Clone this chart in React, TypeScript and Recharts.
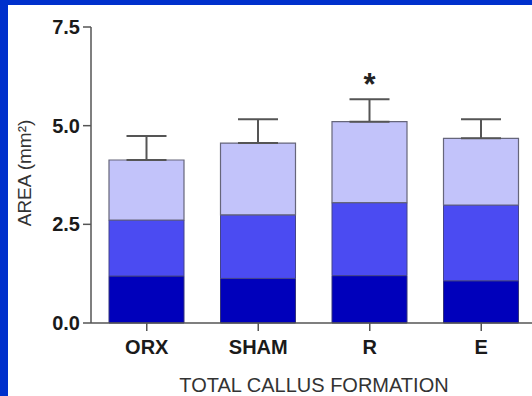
import { Bar, BarChart, ErrorBar, LabelList, XAxis, YAxis } from "recharts";

const groups = ["ORX", "SHAM", "R", "E"];
const lowerPart = [1.19, 1.13, 1.2, 1.07];
const middlePart = [1.42, 1.61, 1.85, 1.92];
const upperPart = [1.52, 1.82, 2.05, 1.69];
const upperError = [0.61, 0.6, 0.57, 0.48];
const significance = ["", "", "*", ""];
const yTicks = [0, 2.5, 5, 7.5];

const data = groups.map((g, i) => ({
  group: g,
  low: lowerPart[i],
  mid: middlePart[i],
  high: upperPart[i],
  err: [0, upperError[i]],
  sig: significance[i],
}));

const FONT = "'Liberation Sans', Arial, sans-serif";

const Star = (props: any) => {
  const { x, y, width, value } = props;
  if (!value) return null;
  return (
    <text
      x={x + width / 2}
      y={y - 27}
      textAnchor="middle"
      fontFamily={FONT}
      fontWeight="bold"
      fontSize={31}
      fill="#222"
    >
      {value}
    </text>
  );
};

const YLabel = () => (
  <text
    x={24}
    y={173}
    transform="rotate(-90 24 173)"
    textAnchor="middle"
    dominantBaseline="central"
    fontFamily={FONT}
    fontSize={19}
    fill="#333"
  >
    AREA (mm²)
  </text>
);

export default function App() {
  return (
    <div
      style={{
        position: "absolute",
        left: 0,
        top: 0,
        width: 532,
        height: 396,
        background: "#0030CC",
        overflow: "hidden",
      }}
    >
      <div
        style={{
          position: "absolute",
          left: 8,
          top: 5,
          width: 524,
          height: 391,
          background: "#fff",
        }}
      />
      <div style={{ position: "absolute", left: 0, top: 0 }}>
        <BarChart
          width={545}
          height={396}
          data={data}
          margin={{ top: 27, right: 8, left: 0, bottom: 0 }}
          barSize={75}
        >
          <XAxis
            dataKey="group"
            height={73}
            tickSize={8}
            tickMargin={9}
            axisLine={{ stroke: "#555", strokeWidth: 1.5 }}
            tickLine={{ stroke: "#555", strokeWidth: 1.5 }}
            tick={{ fill: "#1a1a1a", fontSize: 20, fontWeight: "bold", fontFamily: FONT }}
            label={{
              value: "TOTAL CALLUS FORMATION",
              position: "insideBottom",
              offset: 4,
              fill: "#333",
              fontSize: 20,
              fontFamily: FONT,
            }}
          />
          <YAxis
            width={91}
            domain={[0, 7.5]}
            ticks={yTicks}
            tickFormatter={(v: number) => v.toFixed(1)}
            tickSize={8}
            tickMargin={3}
            axisLine={{ stroke: "#555", strokeWidth: 1.5 }}
            tickLine={{ stroke: "#555", strokeWidth: 1.5 }}
            tick={{ fill: "#1a1a1a", fontSize: 20, fontWeight: "bold", fontFamily: FONT }}
            label={<YLabel />}
          />
          <Bar dataKey="low" stackId="a" fill="#0000BB" stroke="#33337a" strokeWidth={1} isAnimationActive={false} />
          <Bar dataKey="mid" stackId="a" fill="#4B4BF2" stroke="#44448a" strokeWidth={1} isAnimationActive={false} />
          <Bar dataKey="high" stackId="a" fill="#C2C3FA" stroke="#66667a" strokeWidth={1.2} isAnimationActive={false}>
            <ErrorBar dataKey="err" width={20} stroke="#555" strokeWidth={2} direction="y" />
            <LabelList dataKey="sig" content={<Star />} />
          </Bar>
        </BarChart>
      </div>
    </div>
  );
}
